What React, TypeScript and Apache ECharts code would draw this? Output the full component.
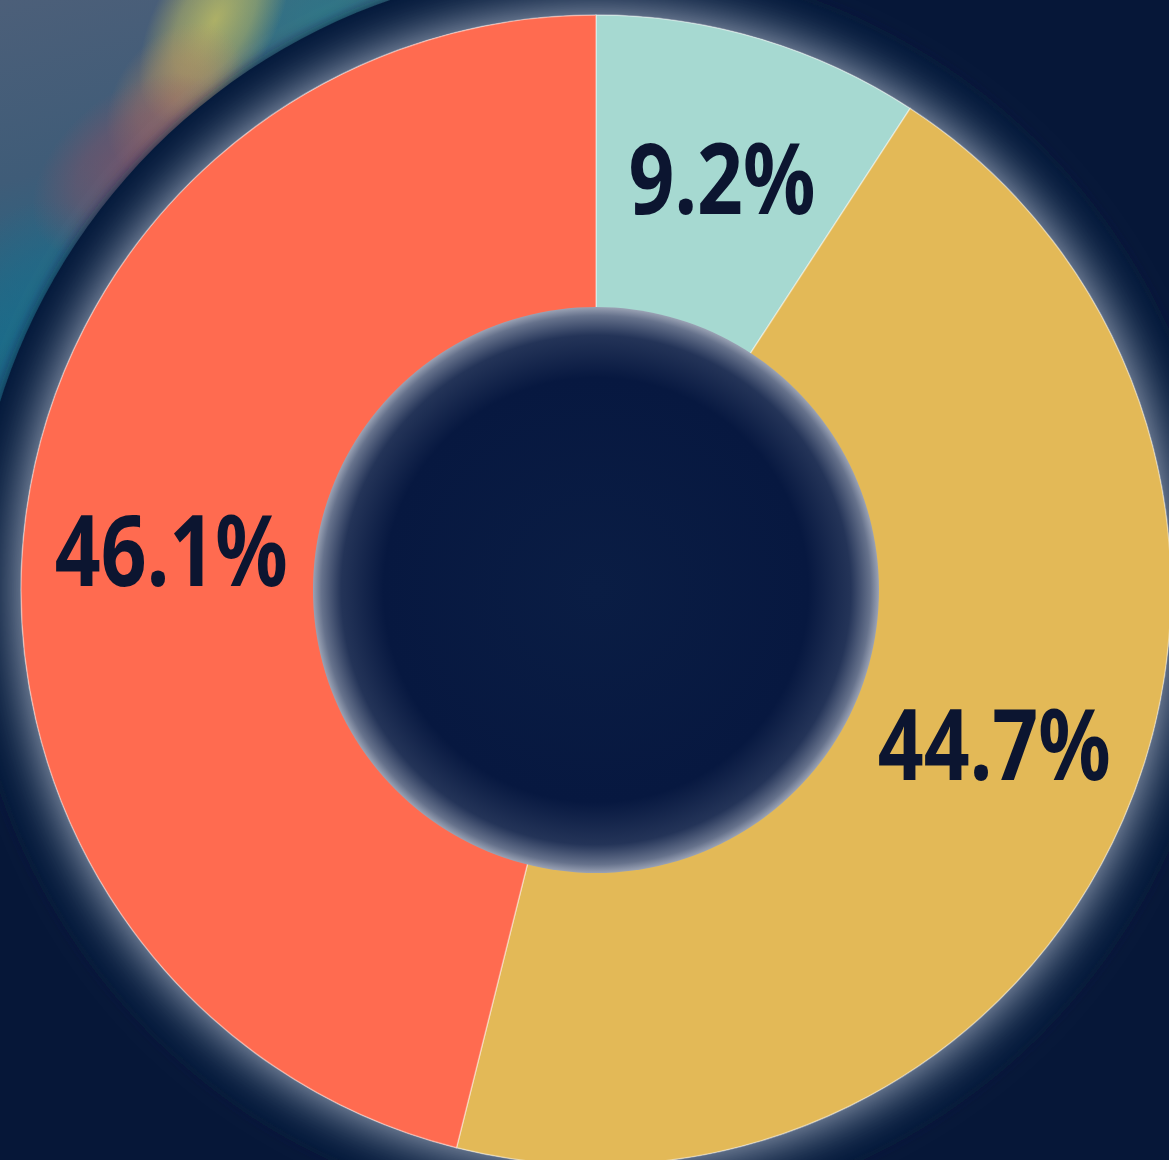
import React, { useEffect, useRef } from "react";
import * as echarts from "echarts";

const categories = ["A", "B", "C"];
const values = [9.2, 44.7, 46.1];
const colors = ["#a6d9d1", "#e3b957", "#ff6b50"];
const labelOffsets = [[4, -4], [6, -19], [0, 10]];

export default function App() {
  const ref = useRef<HTMLDivElement>(null);
  useEffect(() => {
    if (!ref.current) return;
    const chart = echarts.init(ref.current, null, { renderer: "svg" });
    const cx = 596;
    const cy = 590;
    const r0 = 281;
    const r1 = 575;
    const blob = (x: number, y: number, rx: number, ry: number, rot: number, c: string, a: number) => ({
      type: "ellipse",
      z: -9,
      silent: true,
      x,
      y,
      rotation: rot,
      shape: { cx: 0, cy: 0, rx, ry },
      style: {
        fill: new echarts.graphic.RadialGradient(0.5, 0.5, 0.5, [
          { offset: 0, color: `rgba(${c},${a})` },
          { offset: 0.55, color: `rgba(${c},${a * 0.6})` },
          { offset: 1, color: `rgba(${c},0)` },
        ]),
      },
    });
    const decor: any[] = [
      {
        type: "rect",
        z: -10,
        silent: true,
        shape: { x: 0, y: 0, width: 560, height: 480 },
        style: {
          fill: new echarts.graphic.LinearGradient(0, 0, 0.3, 1, [
            { offset: 0, color: "#4c5f79" },
            { offset: 0.35, color: "#3f5c78" },
            { offset: 0.65, color: "#1f6886" },
            { offset: 1, color: "#184f70" },
          ]),
        },
      },
      blob(340, 20, 170, 100, 0, "40,125,140", 0.8),
      blob(50, 330, 100, 130, 0, "25,110,140", 0.7),
      blob(215, 20, 60, 115, -0.5, "210,200,95", 0.75),
      blob(175, 100, 60, 85, -0.6, "195,140,95", 0.55),
      blob(130, 165, 70, 115, -0.85, "145,80,100", 0.6),
      {
        type: "circle",
        z: -8,
        silent: true,
        shape: { cx, cy, r: 625 },
        style: { fill: "#061738", shadowBlur: 14, shadowColor: "rgba(6,23,56,0.9)" },
      },
    ];

    const option: any = {
      animation: false,
      backgroundColor: "#061738",
      graphic: decor,
      series: [
        {
          type: "pie",
          silent: true,
          z: 1,
          center: [cx, cy],
          radius: [r0, r1],
          label: { show: false },
          itemStyle: {
            color: "#f4efe6",
            shadowBlur: 55,
            shadowColor: "rgba(225,232,245,0.85)",
          },
          data: [{ value: 1 }],
        },
        {
          type: "pie",
          z: 2,
          center: [cx, cy],
          radius: [r0, r1],
          startAngle: 90,
          clockwise: true,
          itemStyle: { borderColor: "rgba(255,255,255,0.4)", borderWidth: 1.5 },
          label: { show: false },
          labelLine: { show: false },
          data: categories.map((name, i) => ({
            name,
            value: values[i],
            itemStyle: { color: colors[i] },
          })),
        },
        {
          type: "pie",
          silent: true,
          z: 3,
          center: [cx, cy],
          radius: [0, r0 + 2],
          label: { show: false },
          itemStyle: {
            color: new echarts.graphic.RadialGradient(0.5, 0.5, 0.5, [
              { offset: 0, color: "#0a1d44" },
              { offset: 0.75, color: "#071840" },
              { offset: 0.9, color: "#243458" },
              { offset: 0.97, color: "#66728c" },
              { offset: 1, color: "#9aa2b4" },
            ]),
          },
          data: [{ value: 1 }],
        },
      ],
    };
    chart.setOption(option);

    // Labels placed at each slice's mid angle, from the pie's own layout
    const labels: any[] = [];
    let data: any = null;
    try {
      data = (chart as any).getModel().getSeriesByIndex(1).getData();
    } catch (e) {
      data = null;
    }
    const total = values.reduce((a, b) => a + b, 0);
    let acc = 0;
    values.forEach((v, i) => {
      let lx: number;
      let ly: number;
      const lay = data && data.getItemLayout ? data.getItemLayout(i) : null;
      if (lay && isFinite(lay.startAngle)) {
        const mid = (lay.startAngle + lay.endAngle) / 2;
        const rm = (lay.r + lay.r0) / 2;
        lx = lay.cx + Math.cos(mid) * rm;
        ly = lay.cy + Math.sin(mid) * rm;
      } else {
        const midDeg = 90 - ((acc + v / 2) / total) * 360;
        const a = (midDeg * Math.PI) / 180;
        const rm = (r0 + r1) / 2;
        lx = cx + Math.cos(a) * rm;
        ly = cy - Math.sin(a) * rm;
      }
      acc += v;
      labels.push({
        type: "text",
        z: 10,
        silent: true,
        x: lx + labelOffsets[i][0],
        y: ly + labelOffsets[i][1],
        scaleX: 0.82,
        style: {
          text: v.toFixed(1) + "%",
          fill: "#0c1530",
          font: "bold 98px 'Noto Sans', 'DejaVu Sans', sans-serif",
          textAlign: "center",
          textVerticalAlign: "middle",
        },
      });
    });
    chart.setOption({ graphic: [...decor, ...labels] });
    return () => chart.dispose();
  }, []);
  return (
    <div
      ref={ref}
      style={{ position: "fixed", left: 0, top: 0, width: 1169, height: 1160 }}
    />
  );
}
